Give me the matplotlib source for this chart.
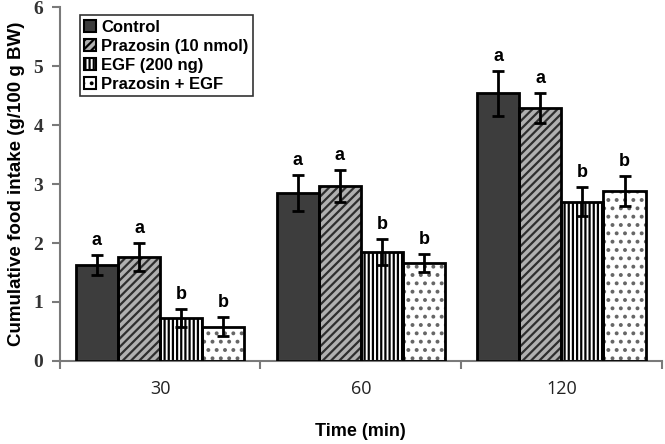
import numpy as np
import matplotlib.pyplot as plt
from matplotlib.ticker import FixedLocator, NullFormatter

# data
times = ["30", "60", "120"]
groups = ["Control", "Prazosin (10 nmol)", "EGF (200 ng)", "Prazosin + EGF"]
means = {
    "Control": [1.63, 2.85, 4.54],
    "Prazosin (10 nmol)": [1.76, 2.97, 4.29],
    "EGF (200 ng)": [0.73, 1.85, 2.70],
    "Prazosin + EGF": [0.58, 1.66, 2.88],
}
errs = {
    "Control": [0.17, 0.31, 0.38],
    "Prazosin (10 nmol)": [0.24, 0.27, 0.25],
    "EGF (200 ng)": [0.15, 0.22, 0.25],
    "Prazosin + EGF": [0.16, 0.15, 0.26],
}
letters = {
    "Control": ["a", "a", "a"],
    "Prazosin (10 nmol)": ["a", "a", "a"],
    "EGF (200 ng)": ["b", "b", "b"],
    "Prazosin + EGF": ["b", "b", "b"],
}

# look of each series: face, hatch, hatch colour
styles = {
    "Control": ("#3d3d3d", "", "#3d3d3d"),
    "Prazosin (10 nmol)": ("#b0b0b0", "////", "#2e2e2e"),
    "EGF (200 ng)": ("white", "||||", "black"),
    "Prazosin + EGF": ("white", "..", "#666666"),
}

fig = plt.figure(figsize=(6.65, 4.44), dpi=100)
ax = fig.add_axes([0.090, 0.187, 0.905, 0.797])

x = np.arange(len(times))
w = 0.21
offsets = (np.arange(len(groups)) - 1.5) * w

plt.rcParams['hatch.linewidth'] = 1.6

handles = []
for i, g in enumerate(groups):
    face, hatch, hcol = styles[g]
    pos = x + offsets[i]
    # hatch layer (edgecolor gives hatch colour), then black outline on top
    ax.bar(pos, means[g], w, color=face, hatch=hatch, edgecolor=hcol, linewidth=0, zorder=2)
    ax.bar(pos, means[g], w, fill=False, edgecolor="black", linewidth=2, zorder=3)
    ax.errorbar(pos, means[g], yerr=errs[g], fmt="none", ecolor="black",
                elinewidth=2, capsize=4, capthick=2, zorder=4)
    for xp, m, e, t in zip(pos, means[g], errs[g], letters[g]):
        ax.text(xp, m + e + 0.1, t, ha="center", va="bottom", fontsize=13,
                fontweight="bold", family="Liberation Sans")
    h = plt.Rectangle((0, 0), 1, 1, facecolor=face, hatch=hatch, edgecolor="black", linewidth=1.5)
    handles.append(h)

ax.set_xlim(-0.5, 2.5)
ax.set_ylim(0, 6)
ax.spines["top"].set_visible(False)
ax.spines["right"].set_visible(False)
for s in ("left", "bottom"):
    ax.spines[s].set_color("#7a7a7a")
    ax.spines[s].set_linewidth(1.5)

ax.set_yticks(range(7))
ax.set_yticklabels([str(v) for v in range(7)], family="Liberation Serif",
                   fontweight="bold", fontsize=14, color="#333333")
ax.tick_params(axis="y", length=6, width=1.5, color="#7a7a7a", pad=6)

ax.set_xticks(x)
ax.set_xticklabels(times, family="Open Sans", fontsize=13, color="#222222")
ax.tick_params(axis="x", which="major", length=0, pad=14)
ax.xaxis.set_minor_locator(FixedLocator([-0.5, 0.5, 1.5, 2.5]))
ax.xaxis.set_minor_formatter(NullFormatter())
ax.tick_params(axis="x", which="minor", length=6, width=1.5, color="#7a7a7a")

ax.set_xlabel("Time (min)", family="Liberation Sans", fontweight="bold", fontsize=13, labelpad=18)
ax.set_ylabel("Cumulative food intake (g/100 g BW)", family="Liberation Sans",
              fontweight="bold", fontsize=13.5, labelpad=6)

leg = ax.legend(handles, groups, loc="upper left", bbox_to_anchor=(0.02, 1.0),
                prop={"family": "Liberation Sans", "weight": "bold", "size": 12},
                handlelength=0.7, handleheight=0.7, handletextpad=0.3,
                labelspacing=0.25, borderpad=0.25, fancybox=False, framealpha=1)
leg.get_frame().set_edgecolor("#333333")
leg.get_frame().set_linewidth(1.2)

fig.savefig("out.png", dpi=100)
